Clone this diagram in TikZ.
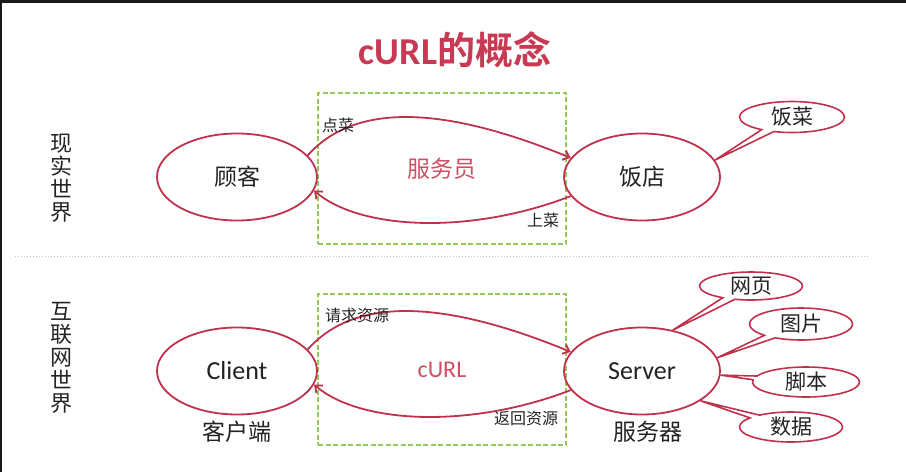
\documentclass[tikz,border=0pt]{standalone}
\usepackage{fontspec}
\setmainfont{Carlito}
\newfontfamily\cjk{Noto Sans CJK SC}[BoldFont={Noto Sans CJK SC Bold}]
\usetikzlibrary{shapes.geometric,shapes.callouts,arrows.meta}
\definecolor{curlred}{RGB}{192,50,76}
\definecolor{titlered}{RGB}{200,58,84}
\definecolor{softred}{RGB}{206,78,100}
\definecolor{boxgreen}{RGB}{146,200,92}
\definecolor{sepgray}{RGB}{188,198,214}
\definecolor{inkgray}{RGB}{35,35,35}
\tikzset{
  place/.style={draw=curlred, ellipse, line width=1.8pt, inner sep=0pt,
    minimum width=160, minimum height=87, text=inkgray,
    font=\cjk\fontsize{23}{23}\selectfont},
  latin/.style={font=\fontsize{26}{26}\selectfont},
  actorbox/.style={draw=boxgreen, line width=1.8pt, dash pattern=on 5pt off 2.5pt,
    minimum width=248, minimum height=151, inner sep=0pt, text=softred},
  bubble/.style={ellipse callout, draw=curlred, line width=1.6pt, inner sep=0pt,
    text=inkgray, font=\cjk\fontsize{21}{21}\selectfont},
  flow/.style={-{Straight Barb[length=6pt,width=10pt]}, draw=curlred, line width=1.8pt},
  tag/.style={text=inkgray, font=\cjk\fontsize{16}{16}\selectfont},
  side/.style={align=center, text=inkgray, font=\cjk\fontsize{22}{23}\selectfont}
}
\begin{document}
\begin{tikzpicture}[x=1pt,y=-1pt]
\useasboundingbox (0,0) rectangle (906,472);
\fill[black!90] (0,0) rectangle (906,2.5);
\fill[black!90] (0,0) rectangle (2,472);

\node at (455,50) [text=titlered, font=\fontsize{38}{44}\selectfont\bfseries] (title) {cURL{\cjk\bfseries 的概念}};

% real world
\node at (61,178) [side] (realworld) {现\\实\\世\\界};
\node at (442,168.5) [actorbox, font=\cjk\fontsize{23}{23}\selectfont] (waiter) {服务员};
\node at (237,177) [place] (guest) {顾客};
\node at (642,177) [place, minimum width=156] (shop) {饭店};
\node at (792,117) [bubble, minimum width=105, minimum height=31, callout absolute pointer={(shop.13)}] (dish) {饭菜};
\draw[flow] (guest.17) .. controls (350,108) and (430,100) .. (shop.165);
\draw[flow] (shop.195) .. controls (470,235) and (360,230) .. (guest.350);
\node at (338,125) [tag] (order) {点菜};
\node at (543,220) [tag] (serve) {上菜};

\draw[sepgray, line width=1pt, dotted] (15,256) -- (870,256);

% internet world
\node at (61,358) [side] (networld) {互\\联\\网\\世\\界};
\node at (442,369.5) [actorbox, font=\fontsize{24}{24}\selectfont] (curl) {cURL};
\node at (237,371) [place, latin] (client) {Client};
\node at (642,371) [place, latin, minimum width=156] (server) {Server};
\node at (237,432) [tag, font=\cjk\fontsize{23}{23}\selectfont] (clientlbl) {客户端};
\node at (648,432) [tag, font=\cjk\fontsize{23}{23}\selectfont] (serverlbl) {服务器};
\draw[flow] (client.17) .. controls (350,302) and (430,294) .. (server.165);
\draw[flow] (server.195) .. controls (470,429) and (360,424) .. (client.350);
\node at (357,315) [tag] (request) {请求资源};
\node at (526,418) [tag] (reply) {返回资源};

\node at (751,286) [bubble, minimum width=103, minimum height=28, callout absolute pointer={(server.53)}] (page) {网页};
\node at (801,324) [bubble, minimum width=103, minimum height=32, callout absolute pointer={(server.10)}] (image) {图片};
\node at (806,382) [bubble, minimum width=107, minimum height=30, callout absolute pointer={(server.-3)}] (script) {脚本};
\node at (791,427) [bubble, minimum width=103, minimum height=30, callout absolute pointer={(server.-27)}] (data) {数据};
\end{tikzpicture}
\end{document}
